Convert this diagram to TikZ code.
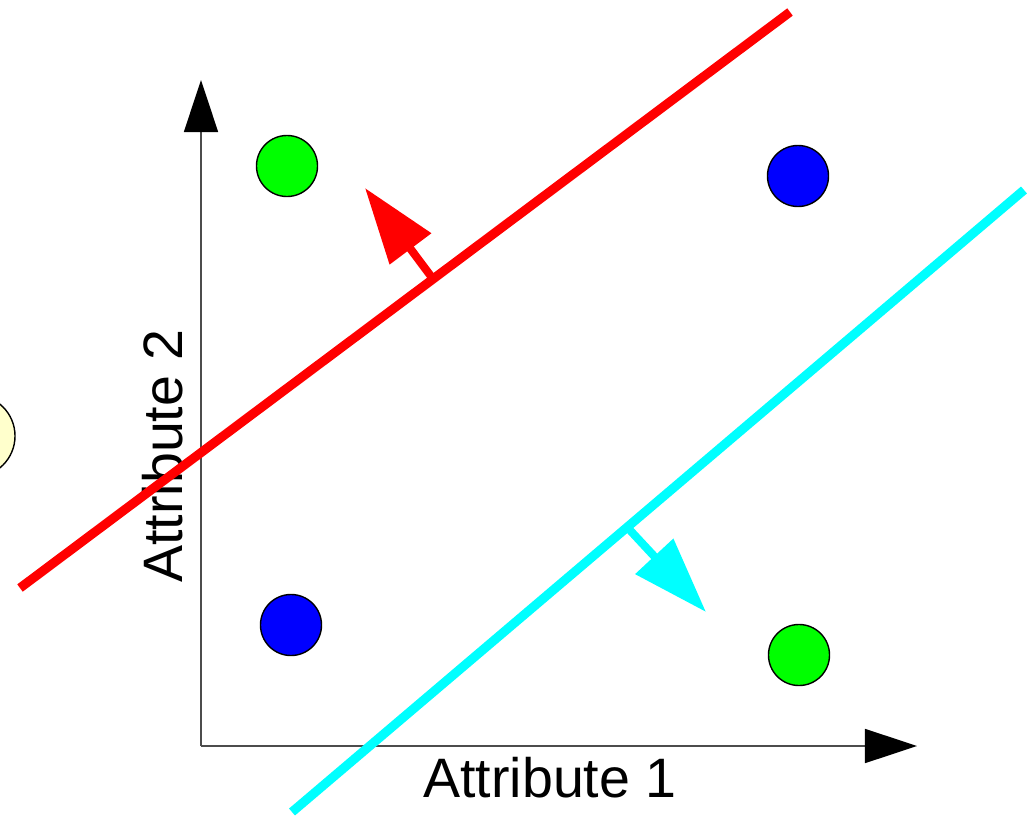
\documentclass[tikz,border=0pt]{standalone}
\usepackage{fontspec}
\setmainfont{Liberation Sans}
\usetikzlibrary{arrows.meta, positioning}

\definecolor{paleyellow}{RGB}{255,255,204}
\definecolor{purecyan}{RGB}{0,255,255}
\definecolor{purered}{RGB}{255,0,0}

\begin{document}
\begin{tikzpicture}[
    x=0.01cm, y=-0.01cm,
    every node/.style={font=\fontsize{15.8}{19}\selectfont},
    dot/.style={circle, draw=black, line width=0.4pt, minimum size=0.61cm, inner sep=0pt},
    axis/.style={draw=black!70, line width=0.45pt, -{Triangle[length=0.52cm, width=0.34cm, black]}},
    border/.style={line width=2.6pt},
    normal/.style={line width=2.3pt, -{Triangle[length=0.76cm, width=0.5cm]}},
]
\useasboundingbox (0,0) rectangle (1027,818);
\clip (0,0) rectangle (1027,818);

% Axes
\coordinate (origin) at (201,746);
\coordinate (ytip) at (201,80);
\coordinate (xtip) at (917,746);
\draw[axis] (origin) -- (ytip);
\draw[axis] (origin) -- (xtip);
\node (xlab) at (550,778) {Attribute 1};
\node[rotate=90] (ylab) at (163,456) {Attribute 2};

% Data points
\node[dot, fill=paleyellow, minimum size=0.82cm] (extra) at (-26,436) {};
\node[dot, fill=green] (greenTL) at (287,166) {};
\node[dot, fill=blue] (blueTR) at (798,176) {};
\node[dot, fill=blue] (blueBL) at (291,625) {};
\node[dot, fill=green] (greenBR) at (799,655) {};

% Separating lines
\coordinate (redA) at (20,588);
\coordinate (redB) at (790,12);
\coordinate (cyanA) at (292,812);
\coordinate (cyanB) at (1024,190);
\draw[border, purered] (redA) -- (redB);
\draw[border, purecyan] (cyanA) -- (cyanB);

% Normal directions
\coordinate (redFoot) at (433,279);
\coordinate (redTip) at (365,188);
\coordinate (cyanFoot) at (627,527);
\coordinate (cyanTip) at (706,612);
\draw[normal, purered] (redFoot) -- (redTip);
\draw[normal, purecyan] (cyanFoot) -- (cyanTip);

\end{tikzpicture}
\end{document}
